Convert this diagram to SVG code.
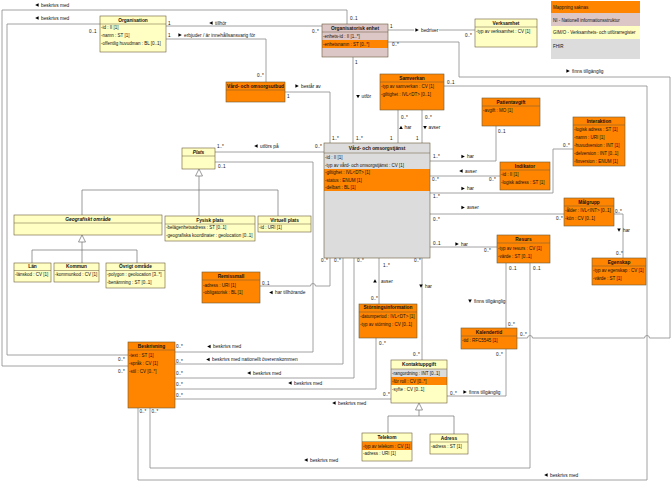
<svg xmlns="http://www.w3.org/2000/svg" width="672" height="482" viewBox="0 0 672 482">
<defs>
<style>
text{font-family:"Liberation Sans",Arial,sans-serif;fill:#111}
.h{font-size:4.8px;font-weight:bold;text-anchor:middle}
.hi{font-size:4.8px;font-weight:bold;font-style:italic;text-anchor:middle}
.a{font-size:4.5px}
.l{font-size:4.8px}
.m{font-size:4.6px}
.lg{font-size:4.5px}
.bx{fill:none;stroke:#6b5a3a;stroke-width:0.6}
.sep{stroke:#6b5a3a;stroke-width:0.5}
.Y{fill:#ffffc4}
.O{fill:#ff8400}
.P{fill:#dcc6c6}
.G{fill:#dcdcdc}
.c{fill:none;stroke:#8a8a8a;stroke-width:0.8}
.gen{fill:none;stroke:#707070;stroke-width:0.7}
.tri{fill:#fff;stroke:#707070;stroke-width:0.7}
</style>
<path id="aR" d="M-1.6,-1.8 L1.8,0 L-1.6,1.8Z" fill="#000"/>
<path id="aL" d="M1.6,-1.8 L-1.8,0 L1.6,1.8Z" fill="#000"/>
<path id="aU" d="M-1.8,1.6 L0,-1.8 L1.8,1.6Z" fill="#000"/>
<path id="aD" d="M-1.8,-1.6 L0,1.8 L1.8,-1.6Z" fill="#000"/>
</defs>
<rect width="672" height="482" fill="#fff"/>

<g id="legend">
<rect class="O" x="551" y="1" width="89" height="12"/>
<rect class="P" x="551" y="13" width="89" height="13"/>
<rect class="Y" x="551" y="26" width="89" height="13"/>
<rect class="G" x="551" y="39" width="89" height="20"/>
<text class="lg" x="553" y="8.7">Mappning saknas</text>
<text class="lg" x="553" y="21.5">NI - Nationell informationsstruktur</text>
<text class="lg" x="553" y="34.3">GIM/O - Verksamhets- och utförarregister</text>
<text class="lg" x="553" y="48.3">FHIR</text>
</g>

<g id="connectors">
<!-- C1 Org enhet beskrivs med Beskrivning -->
<path class="c" d="M347,24 V10 H2 V366 H128"/>
<use href="#aL" x="37" y="5"/><text class="l" x="41" y="6.6">beskrivs med</text>
<text class="m" x="350" y="19.5">0..1</text>
<text class="m" x="118" y="372.5">0..*</text>
<!-- C2 Organisation beskrivs med Beskrivning -->
<path class="c" d="M100,24 H7 V355 H128"/>
<use href="#aL" x="37" y="18"/><text class="l" x="41" y="19.6">beskrivs med</text>
<text class="m" x="89" y="33">0..1</text>
<text class="m" x="118" y="360.5">0..*</text>
<!-- C3 tillhör -->
<path class="c" d="M166,26 H322"/>
<use href="#aL" x="211" y="23"/><text class="l" x="215" y="24.6">tillhör</text>
<text class="m" x="168" y="24.5">1</text>
<text class="m" x="312" y="32.5">0..*</text>
<!-- C4 erbjuder -->
<path class="c" d="M166,39 H266 V82"/>
<use href="#aR" x="180" y="35"/><text class="l" x="184" y="36.6">erbjuder / är innehållsansvarig för</text>
<text class="m" x="168" y="37">1</text>
<text class="m" x="257" y="76.5">0..*</text>
<!-- C5 består av -->
<path class="c" d="M285,92 H330 V143"/>
<use href="#aR" x="297" y="86"/><text class="l" x="301" y="87.6">består av</text>
<text class="m" x="287" y="98">1</text>
<text class="m" x="332" y="140">1..*</text>
<!-- C6 utför -->
<path class="c" d="M353,57 V143"/>
<use href="#aD" x="358" y="96.5"/><text class="l" x="361.5" y="98.2">utför</text>
<text class="m" x="355" y="63.5">1</text>
<text class="m" x="356" y="140">1..*</text>
<!-- C7 bedriver -->
<path class="c" d="M388,30 H475"/>
<rect x="414" y="27" width="25" height="6" fill="#fff"/>
<use href="#aR" x="417" y="30"/><text class="l" x="421" y="31.6">bedriver</text>
<text class="m" x="390" y="28">1</text>
<text class="m" x="465" y="36.5">0..*</text>
<!-- C8 Org enhet finns tillgänglig Kalendertid -->
<path class="c" d="M388,42 H459 V77 H670 V338 H649.5 A2.5,2.5 0 0 0 644.5,338 H532.5 A2.5,2.5 0 0 0 527.5,338 H517"/>
<use href="#aR" x="568" y="71"/><text class="l" x="572" y="72.6">finns tillgänglig</text>
<text class="m" x="392" y="46">0..*</text>
<text class="m" x="520" y="335.5">0..*</text>
<!-- C9 Samverkan beskrivs med Beskrivning -->
<path class="c" d="M444,86 H647 V480 H138 V408"/>
<use href="#aL" x="546" y="475"/><text class="l" x="550" y="476.6">beskrivs med</text>
<text class="m" x="447" y="83.5">0..1</text>
<text class="m" x="139.5" y="413">0..*</text>
<!-- C10 Resurs beskrivs med Beskrivning -->
<path class="c" d="M530,263 V468 H150 V408"/>
<use href="#aL" x="306" y="460"/><text class="l" x="310" y="461.6">beskrivs med</text>
<text class="m" x="533" y="269.5">0..1</text>
<text class="m" x="151.5" y="413">0..*</text>
<!-- C11 Resurs finns tillgänglig Kalendertid -->
<path class="c" d="M506,263 V328"/>
<use href="#aD" x="470" y="301"/><text class="l" x="474" y="302.6">finns tillgänglig</text>
<text class="m" x="509" y="269.5">0..1</text>
<text class="m" x="508" y="325.5">0..*</text>
<!-- C12 Kontaktuppgift finns tillgänglig Kalendertid -->
<path class="c" d="M447,396 H506 V349"/>
<use href="#aR" x="465" y="392"/><text class="l" x="469" y="393.6">finns tillgänglig</text>
<text class="m" x="450" y="395">0..*</text>
<text class="m" x="496" y="355.5">0..*</text>
<!-- C13 har Kontaktuppgift -->
<path class="c" d="M422,258 V360"/>
<use href="#aD" x="421" y="286"/><text class="l" x="425" y="287.6">har</text>
<text class="m" x="414" y="262">0..*</text>
<text class="m" x="413" y="356">0..*</text>
<!-- C14 avser Störningsinformation -->
<path class="c" d="M379,258 V304"/>
<use href="#aU" x="375" y="281"/><text class="l" x="381" y="283">avser</text>
<text class="m" x="383" y="266.5">1..*</text>
<text class="m" x="371" y="299.5">0..*</text>
<!-- C15 har tillhörande Remissmall -->
<path class="c" d="M330,258 V286 H315.5 A2.5,2.5 0 0 0 310.5,286 H260"/>
<use href="#aL" x="271" y="292.5"/><text class="l" x="275" y="294.1">har tillhörande</text>
<text class="m" x="321" y="262">0..*</text>
<text class="m" x="262" y="284.5">0..1</text>
<!-- C16 beskrivs med nationellt överenskommen -->
<path class="c" d="M343,258 V364 H175"/>
<use href="#aL" x="208" y="359.5"/><text class="l" x="212" y="361.1">beskrivs med nationellt överenskommen</text>
<text class="m" x="334" y="262">0..*</text>
<text class="m" x="176" y="362.5">0..*</text>
<!-- C17 beskrivs med -->
<path class="c" d="M354,258 V378 H175"/>
<use href="#aL" x="249" y="373"/><text class="l" x="253" y="374.6">beskrivs med</text>
<text class="m" x="357" y="262">0..*</text>
<text class="m" x="176" y="375">0..*</text>
<!-- C18 Störningsinformation beskrivs med -->
<path class="c" d="M376,338 V389 H175"/>
<use href="#aL" x="290" y="383"/><text class="l" x="294" y="384.6">beskrivs med</text>
<text class="m" x="379" y="344.5">0..*</text>
<text class="m" x="176" y="386">0..*</text>
<!-- C19 Kontaktuppgift beskrivs med -->
<path class="c" d="M391,399 H175"/>
<use href="#aL" x="334" y="403"/><text class="l" x="338" y="404.6">beskrivs med</text>
<text class="m" x="383" y="395.5">0..*</text>
<text class="m" x="176" y="396.5">0..*</text>
<!-- C20 Plats beskrivs med -->
<path class="c" d="M215,162 H313 V352 H175"/>
<use href="#aL" x="209" y="346.5"/><text class="l" x="213" y="348.1">beskrivs med</text>
<text class="m" x="218" y="167.5">0..1</text>
<text class="m" x="176" y="348">0..*</text>
<!-- C21 utförs på -->
<path class="c" d="M215,152 H324"/>
<use href="#aL" x="256" y="146"/><text class="l" x="260" y="147.6">utförs på</text>
<text class="m" x="217" y="147.5">1..*</text>
<text class="m" x="315" y="147.5">0..*</text>
<!-- C22 Samverkan har -->
<path class="c" d="M398,110 V143"/>
<use href="#aU" x="401" y="127.5"/><text class="l" x="404.5" y="129.1">har</text>
<text class="m" x="401" y="118.5">0..*</text>
<text class="m" x="390" y="139.5">1</text>
<!-- C23 Samverkan avser -->
<path class="c" d="M422,110 V143"/>
<use href="#aD" x="425" y="127.5"/><text class="l" x="428.5" y="129.1">avser</text>
<text class="m" x="425" y="118.5">0..*</text>
<text class="m" x="416" y="139.5">1</text>
<!-- C24 har Patientavgift -->
<path class="c" d="M430,161 H496 V126"/>
<use href="#aR" x="463" y="156.5"/><text class="l" x="467" y="158.1">har</text>
<text class="m" x="433" y="158">1..*</text>
<text class="m" x="498" y="132.5">0..1</text>
<!-- C25 avser Indikator -->
<path class="c" d="M430,176 H500"/>
<use href="#aL" x="461" y="171"/><text class="l" x="465" y="172.6">avser</text>
<text class="m" x="432" y="180.5">0..*</text>
<text class="m" x="489" y="180.5">0..*</text>
<!-- C26 har Interaktion -->
<path class="c" d="M430,193 H553 V149 H573"/>
<use href="#aR" x="463" y="188.5"/><text class="l" x="467" y="190.1">har</text>
<text class="m" x="433" y="197.5">1..*</text>
<text class="m" x="563" y="146.5">0..*</text>
<!-- C27 avser Målgrupp -->
<path class="c" d="M430,214 H564"/>
<use href="#aR" x="463" y="207.5"/><text class="l" x="467" y="209.1">avser</text>
<text class="m" x="433" y="220.5">0..*</text>
<text class="m" x="556" y="219.5">0..*</text>
<!-- C28 har Resurs -->
<path class="c" d="M430,247 H497"/>
<use href="#aR" x="457" y="244"/><text class="l" x="461" y="245.6">har</text>
<text class="m" x="433" y="245">0..1</text>
<text class="m" x="484" y="252">0..*</text>
<!-- C29 Målgrupp har Egenskap -->
<path class="c" d="M614,214 H623 V258"/>
<use href="#aD" x="619" y="230"/><text class="l" x="623" y="231.6">har</text>
<text class="m" x="615" y="212.5">0..*</text>
<text class="m" x="616" y="254.5">0..*</text>
<!-- generalizations -->
<path class="gen" d="M199,176 V190 M82,190 H278 M82,190 V215 M199,190 V216 M278,190 V216"/>
<path class="tri" d="M199,169 L202.5,176 L195.5,176Z"/>
<path class="gen" d="M82,242 V250 M32,250 H137 M32,250 V263 M82,250 V263 M137,250 V263"/>
<path class="tri" d="M82,235 L85.5,242 L78.5,242Z"/>
<path class="gen" d="M419,410 V416 M388,416 H454 M388,416 V433 M454,416 V434"/>
<path class="tri" d="M419,403 L422.5,410 L415.5,410Z"/>
</g>

<g id="organisation">
<rect class="Y" x="100" y="16" width="66" height="36"/>
<line class="sep" x1="100" y1="24" x2="166" y2="24"/>
<rect class="bx" x="100" y="16" width="66" height="36"/>
<text class="h" x="133" y="21.7">Organisation</text>
<text class="a" x="101" y="28.5">-id : II [1]</text>
<text class="a" x="101" y="36.5">-namn : ST [1]</text>
<text class="a" x="101" y="44.5">-offentlig huvudman : BL [0..1]</text>
</g>

<g id="organisatorisk-enhet">
<rect class="P" x="322" y="24" width="66" height="33"/>
<rect class="O" x="322" y="40" width="66" height="8"/>
<line class="sep" x1="322" y1="32" x2="388" y2="32"/>
<rect class="bx" x="322" y="24" width="66" height="33"/>
<text class="h" x="355" y="29.7">Organisatorisk enhet</text>
<text class="a" x="323" y="37.8">-enhets-id : II [1..*]</text>
<text class="a" x="323" y="45.6">-enhetsnamn : ST [0..*]</text>
</g>

<g id="verksamhet">
<rect class="Y" x="475" y="19" width="62" height="28"/>
<line class="sep" x1="475" y1="27" x2="537" y2="27"/>
<rect class="bx" x="475" y="19" width="62" height="28"/>
<text class="h" x="506" y="24.7">Verksamhet</text>
<text class="a" x="476" y="32.5">-typ av verksamhet : CV [1]</text>
</g>

<g id="vard-och-omsorgsutbud">
<rect class="O" x="226" y="82" width="59" height="20"/>
<line class="sep" x1="226" y1="90" x2="285" y2="90"/>
<rect class="bx" x="226" y="82" width="59" height="20"/>
<text class="h" x="255.5" y="87.7">Vård- och omsorgsutbud</text>
</g>

<g id="samverkan">
<rect class="O" x="380" y="74" width="64" height="36"/>
<line class="sep" x1="380" y1="82" x2="444" y2="82"/>
<rect class="bx" x="380" y="74" width="64" height="36"/>
<text class="h" x="412" y="79.7">Samverkan</text>
<text class="a" x="381" y="87.5">-typ av samverkan : CV [1]</text>
<text class="a" x="381" y="95.5">-giltighet : IVL&lt;DT&gt; [0..1]</text>
</g>

<g id="patientavgift">
<rect class="O" x="482" y="98" width="58" height="28"/>
<line class="sep" x1="482" y1="106" x2="540" y2="106"/>
<rect class="bx" x="482" y="98" width="58" height="28"/>
<text class="h" x="511" y="103.7">Patientavgift</text>
<text class="a" x="483" y="111.5">-avgift : MO [1]</text>
</g>

<g id="interaktion">
<rect class="O" x="573" y="117" width="52" height="49"/>
<line class="sep" x1="573" y1="125" x2="625" y2="125"/>
<rect class="bx" x="573" y="117" width="52" height="49"/>
<text class="h" x="599" y="122.7">Interaktion</text>
<text class="a" x="574" y="130.6">-logisk adress : ST [1]</text>
<text class="a" x="574" y="138.6">-namn : URI [1]</text>
<text class="a" x="574" y="146.6">-huvudversion : INT [1]</text>
<text class="a" x="574" y="154.6">-delversion : INT [0..1]</text>
<text class="a" x="574" y="162.6">-fixversion : ENUM [1]</text>
</g>

<g id="indikator">
<rect class="O" x="500" y="162" width="50" height="28"/>
<line class="sep" x1="500" y1="170" x2="550" y2="170"/>
<rect class="bx" x="500" y="162" width="50" height="28"/>
<text class="h" x="525" y="167.8">Indikator</text>
<text class="a" x="501" y="176.3">-id : II [1]</text>
<text class="a" x="501" y="184.3">-logisk adress : ST [1]</text>
</g>

<g id="malgrupp">
<rect class="O" x="564" y="198" width="50" height="28"/>
<line class="sep" x1="564" y1="206" x2="614" y2="206"/>
<rect class="bx" x="564" y="198" width="50" height="28"/>
<text class="h" x="589" y="204">Målgrupp</text>
<text class="a" x="565" y="212">-ålder : IVL&lt;INT&gt; [0..1]</text>
<text class="a" x="565" y="220">-kön : CV [0..1]</text>
</g>

<g id="egenskap">
<rect class="O" x="592" y="258" width="54" height="27"/>
<line class="sep" x1="592" y1="266" x2="646" y2="266"/>
<rect class="bx" x="592" y="258" width="54" height="27"/>
<text class="h" x="619" y="263.6">Egenskap</text>
<text class="a" x="593" y="272">-typ av egenskap : CV [1]</text>
<text class="a" x="593" y="280">-värde : ST [1]</text>
</g>

<g id="resurs">
<rect class="O" x="497" y="235" width="53" height="28"/>
<line class="sep" x1="497" y1="243" x2="550" y2="243"/>
<rect class="bx" x="497" y="235" width="53" height="28"/>
<text class="h" x="523.5" y="241">Resurs</text>
<text class="a" x="498" y="249.5">-typ av resurs : CV [1]</text>
<text class="a" x="498" y="257.5">-värde : ST [0..1]</text>
</g>

<g id="kalendertid">
<rect class="O" x="461" y="328" width="56" height="21"/>
<line class="sep" x1="461" y1="336" x2="517" y2="336"/>
<rect class="bx" x="461" y="328" width="56" height="21"/>
<text class="h" x="489" y="334">Kalendertid</text>
<text class="a" x="462" y="342.4">-tid : RFC5545 [1]</text>
</g>

<g id="vard-och-omsorgstjanst">
<rect class="G" x="324" y="143" width="106" height="115"/>
<rect class="O" x="324" y="169" width="106" height="22"/>
<line class="sep" x1="324" y1="153" x2="430" y2="153"/>
<rect class="bx" x="324" y="143" width="106" height="115"/>
<text class="h" x="377" y="149.6">Vård- och omsorgstjänst</text>
<text class="a" x="325" y="159">-id : II [1]</text>
<text class="a" x="325" y="166.5">-typ av vård- och omsorgstjänst : CV [1]</text>
<text class="a" x="325" y="174.3">-giltighet : IVL&lt;DT&gt; [1]</text>
<text class="a" x="325" y="181.6">-status : ENUM [1]</text>
<text class="a" x="325" y="188.9">-delbart : BL [1]</text>
</g>

<g id="plats">
<rect class="Y" x="182" y="148" width="33" height="21"/>
<line class="sep" x1="182" y1="156" x2="215" y2="156"/>
<rect class="bx" x="182" y="148" width="33" height="21"/>
<text class="hi" x="198.5" y="154">Plats</text>
</g>

<g id="geografiskt-omrade">
<rect class="Y" x="14" y="215" width="148" height="20"/>
<line class="sep" x1="14" y1="223" x2="162" y2="223"/>
<rect class="bx" x="14" y="215" width="148" height="20"/>
<text class="hi" x="88" y="221">Geografiskt område</text>
</g>

<g id="fysisk-plats">
<rect class="Y" x="165" y="216" width="90" height="25"/>
<line class="sep" x1="165" y1="224" x2="255" y2="224"/>
<rect class="bx" x="165" y="216" width="90" height="25"/>
<text class="h" x="210" y="221.6">Fysisk plats</text>
<text class="a" x="166" y="229.2">-belägenhetsadress : ST [0..1]</text>
<text class="a" x="166" y="237">-geografiska koordinater : geolocation [0..1]</text>
</g>

<g id="virtuell-plats">
<rect class="Y" x="258" y="216" width="53" height="16"/>
<line class="sep" x1="258" y1="224" x2="311" y2="224"/>
<rect class="bx" x="258" y="216" width="53" height="16"/>
<text class="h" x="284.5" y="221.6">Virtuell plats</text>
<text class="a" x="259" y="229.2">-id : URI [1]</text>
</g>

<g id="lan">
<rect class="Y" x="14" y="263" width="37" height="19"/>
<line class="sep" x1="14" y1="270.5" x2="51" y2="270.5"/>
<rect class="bx" x="14" y="263" width="37" height="19"/>
<text class="h" x="32.5" y="268.2">Län</text>
<text class="a" x="15" y="276.3">-länskod : CV [1]</text>
</g>

<g id="kommun">
<rect class="Y" x="54" y="263" width="45" height="19"/>
<line class="sep" x1="54" y1="270.5" x2="99" y2="270.5"/>
<rect class="bx" x="54" y="263" width="45" height="19"/>
<text class="h" x="76.5" y="268.2">Kommun</text>
<text class="a" x="55" y="276.3">-kommunkod : CV [1]</text>
</g>

<g id="ovrigt-omrade">
<rect class="Y" x="106" y="263" width="59" height="25"/>
<line class="sep" x1="106" y1="270.5" x2="165" y2="270.5"/>
<rect class="bx" x="106" y="263" width="59" height="25"/>
<text class="h" x="135.5" y="268.2">Övrigt område</text>
<text class="a" x="107" y="276.3">-polygon : geolocation [3..*]</text>
<text class="a" x="107" y="284">-benämning : ST [0..1]</text>
</g>

<g id="remissmall">
<rect class="O" x="202" y="272" width="58" height="31"/>
<line class="sep" x1="202" y1="280" x2="260" y2="280"/>
<rect class="bx" x="202" y="272" width="58" height="31"/>
<text class="h" x="231" y="278">Remissmall</text>
<text class="a" x="203" y="286.6">-adress : URI [1]</text>
<text class="a" x="203" y="294.3">-obligatorisk : BL [1]</text>
</g>

<g id="storningsinformation">
<rect class="O" x="359" y="304" width="58" height="34"/>
<line class="sep" x1="359" y1="312" x2="417" y2="312"/>
<rect class="bx" x="359" y="304" width="58" height="34"/>
<text class="h" x="388" y="309.4">Störningsinformation</text>
<text class="a" x="360" y="318.3">-datumperiod : IVL&lt;DT&gt; [1]</text>
<text class="a" x="360" y="326">-typ av störning : CV [0..1]</text>
</g>

<g id="beskrivning">
<rect class="O" x="128" y="342" width="47" height="66"/>
<line class="sep" x1="128" y1="350" x2="175" y2="350"/>
<rect class="bx" x="128" y="342" width="47" height="66"/>
<text class="h" x="151.5" y="348">Beskrivning</text>
<text class="a" x="129" y="357">-text : ST [1]</text>
<text class="a" x="129" y="365.2">-språk : CV [1]</text>
<text class="a" x="129" y="373.4">-stil : CV [0..*]</text>
</g>

<g id="kontaktuppgift">
<rect class="Y" x="391" y="360" width="56" height="43"/>
<rect class="G" x="391" y="369" width="56" height="8"/>
<rect class="O" x="391" y="377" width="56" height="8"/>
<line class="sep" x1="391" y1="369" x2="447" y2="369"/>
<rect class="bx" x="391" y="360" width="56" height="43"/>
<text class="h" x="419" y="366">Kontaktuppgift</text>
<text class="a" x="392" y="375">-rangordning : INT [0..1]</text>
<text class="a" x="392" y="382.6">-för roll : CV [0..*]</text>
<text class="a" x="392" y="390.6">-syfte : CV [0..1]</text>
</g>

<g id="telekom">
<rect class="Y" x="362" y="433" width="50" height="28"/>
<rect class="O" x="362" y="442" width="50" height="8"/>
<line class="sep" x1="362" y1="441.5" x2="412" y2="441.5"/>
<rect class="bx" x="362" y="433" width="50" height="28"/>
<text class="h" x="387" y="438.8">Telekom</text>
<text class="a" x="363" y="447.6">-typ av telekom : CV [1]</text>
<text class="a" x="363" y="455.4">-adress : URI [1]</text>
</g>

<g id="adress">
<rect class="Y" x="430" y="434" width="38" height="20"/>
<line class="sep" x1="430" y1="442" x2="468" y2="442"/>
<rect class="bx" x="430" y="434" width="38" height="20"/>
<text class="h" x="449" y="439.6">Adress</text>
<text class="a" x="431" y="448">-adress : ST [1]</text>
</g>
</svg>
